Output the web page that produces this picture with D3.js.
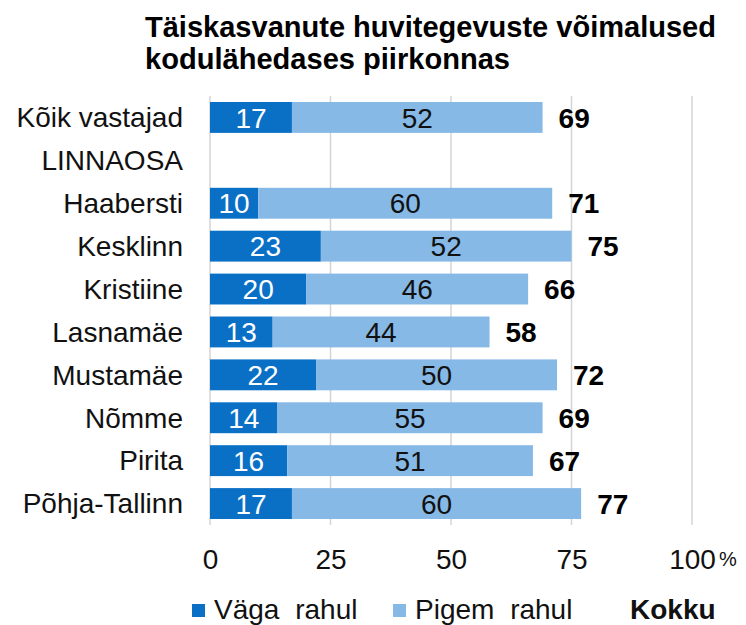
<!DOCTYPE html>
<html>
<head>
<meta charset="utf-8">
<script src="https://cdn.jsdelivr.net/npm/d3@7"></script>
<style>
  body { margin: 0; background: #fff; }
  text { font-family: "Liberation Sans", Arial, sans-serif; }
</style>
</head>
<body>
<svg id="chart" width="746" height="625"></svg>
<script>
// Data
var titleLines = ["Täiskasvanute huvitegevuste võimalused", "kodulähedases piirkonnas"];
var categories = ["Kõik vastajad", "LINNAOSA", "Haabersti", "Kesklinn", "Kristiine", "Lasnamäe", "Mustamäe", "Nõmme", "Pirita", "Põhja-Tallinn"];
var vagaRahul = [17, null, 10, 23, 20, 13, 22, 14, 16, 17];
var pigemRahul = [52, null, 60, 52, 46, 44, 50, 55, 51, 60];
var kokku = [69, null, 71, 75, 66, 58, 72, 69, 67, 77];
var xTicks = [0, 25, 50, 75, 100];
var legendLabels = ["Väga rahul", "Pigem rahul", "Kokku"];

var darkBlue = "#0A70C6",
    lightBlue = "#86B9E6";

var svg = d3.select("#chart");

var margin = { top: 96, left: 210 };

var g = svg.append("g")
    .attr("transform", "translate(" + margin.left + "," + margin.top + ")");

var x = d3.scaleLinear().domain([0, 100]).range([0, 482]);
var y = d3.scaleBand().domain(categories).range([0, 429])
    .paddingInner(0.28).paddingOuter(0.14);

// Title
svg.selectAll(".title")
    .data(titleLines)
    .enter()
    .append("text")
    .attr("x", 145)
    .attr("y", function (d, i) { return 37 + i * 32; })
    .attr("textLength", function (d, i) { return i == 0 ? 571 : 365; })
    .attr("lengthAdjust", "spacingAndGlyphs")
    .style("font-family", '"Liberation Sans Narrow", "Arial Narrow", "Liberation Sans", sans-serif')
    .style("font-weight", "bold")
    .style("font-size", "29px")
    .text(function (d) { return d; });

// Gridlines
g.append("g")
    .selectAll("line")
    .data(xTicks)
    .enter()
    .append("line")
    .attr("x1", function (d) { return x(d); })
    .attr("x2", function (d) { return x(d); })
    .attr("y1", 0)
    .attr("y2", 429)
    .attr("stroke", "#d4d4d4")
    .attr("stroke-width", 1.5);

// Category labels
g.selectAll(".cat")
    .data(categories)
    .enter()
    .append("text")
    .attr("x", -27)
    .attr("y", function (d) { return y(d) + y.bandwidth() / 2; })
    .attr("dy", "0.35em")
    .style("text-anchor", "end")
    .style("font-size", "28px")
    .style("fill", "#111")
    .text(function (d) { return d; });

var rows = categories.map(function (c, i) {
    return { cat: c, very: vagaRahul[i], rather: pigemRahul[i], total: kokku[i] };
}).filter(function (d) { return d.very !== null; });

// Bars
g.selectAll(".bar-very")
    .data(rows)
    .enter()
    .append("rect")
    .attr("x", x(0))
    .attr("y", function (d) { return y(d.cat); })
    .attr("width", function (d) { return x(d.very) - x(0); })
    .attr("height", y.bandwidth())
    .attr("fill", darkBlue);

g.selectAll(".bar-rather")
    .data(rows)
    .enter()
    .append("rect")
    .attr("x", function (d) { return x(d.very); })
    .attr("y", function (d) { return y(d.cat); })
    .attr("width", function (d) { return x(d.total) - x(d.very); })
    .attr("height", y.bandwidth())
    .attr("fill", lightBlue);

// Values
g.selectAll(".val-very")
    .data(rows)
    .enter()
    .append("text")
    .attr("x", function (d) { return x(d.very / 2); })
    .attr("y", function (d) { return y(d.cat) + y.bandwidth() / 2; })
    .attr("dy", "0.36em")
    .style("text-anchor", "middle")
    .style("font-size", "28px")
    .style("fill", "#fff")
    .text(function (d) { return d.very; });

g.selectAll(".val-rather")
    .data(rows)
    .enter()
    .append("text")
    .attr("x", function (d) { return x((d.very + d.total) / 2); })
    .attr("y", function (d) { return y(d.cat) + y.bandwidth() / 2; })
    .attr("dy", "0.36em")
    .style("text-anchor", "middle")
    .style("font-size", "28px")
    .style("fill", "#111")
    .text(function (d) { return d.rather; });

g.selectAll(".val-total")
    .data(rows)
    .enter()
    .append("text")
    .attr("x", function (d) { return x(d.total) + 16; })
    .attr("y", function (d) { return y(d.cat) + y.bandwidth() / 2; })
    .attr("dy", "0.36em")
    .style("font-size", "28px")
    .style("font-weight", "bold")
    .style("fill", "#000")
    .text(function (d) { return d.total; });

// X axis
var xAxis = g.append("g")
    .attr("transform", "translate(0,429)")
    .call(d3.axisBottom(x).tickValues(xTicks).tickSize(0).tickPadding(24));
xAxis.select(".domain").remove();
xAxis.selectAll("text")
    .style("font-family", '"Liberation Sans", Arial, sans-serif')
    .style("font-size", "28px")
    .style("fill", "#111");
g.append("text")
    .attr("x", x(100) + 27)
    .attr("y", 470)
    .style("font-size", "20px")
    .style("fill", "#111")
    .text("%");

// Legend
var legendX = [192, 393, 630];
var legend = svg.selectAll(".legend")
    .data(legendLabels)
    .enter()
    .append("g")
    .attr("transform", function (d, i) { return "translate(" + legendX[i] + ",0)"; });
legend.filter(function (d, i) { return i < 2; })
    .append("rect")
    .attr("x", 0)
    .attr("y", 604)
    .attr("width", 13)
    .attr("height", 13)
    .attr("fill", function (d, i) { return i == 0 ? darkBlue : lightBlue; });
legend.append("text")
    .attr("x", function (d, i) { return i < 2 ? 22 : 0; })
    .attr("y", 619)
    .style("font-size", "28px")
    .style("word-spacing", "8px")
    .style("font-weight", function (d, i) { return i == 2 ? "bold" : "normal"; })
    .style("fill", "#111")
    .text(function (d) { return d; });
</script>
</body>
</html>
